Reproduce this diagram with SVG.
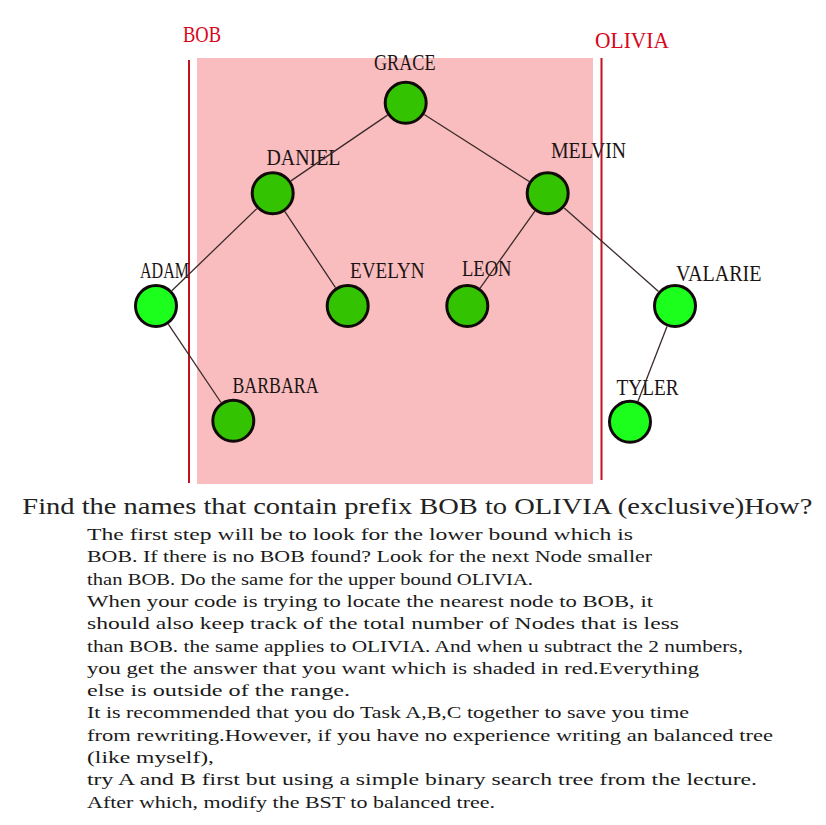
<svg xmlns="http://www.w3.org/2000/svg" width="826" height="825" viewBox="0 0 826 825">
<style>
.lbl{font-family:"Liberation Serif","DejaVu Serif",serif;font-size:23px;fill:#1c1414;}
.rlbl{font-family:"Liberation Serif","DejaVu Serif",serif;font-size:23px;fill:#d8061c;}
.in{fill:#33c300;stroke:#120a0a;stroke-width:3;}
.out{fill:#1cff1c;stroke:#120a0a;stroke-width:3;}
.edge{stroke:#3a2a2a;stroke-width:1.3;fill:none;}
.bound{stroke:#c0141e;stroke-width:2;}
.title{font-family:"Liberation Serif","DejaVu Serif",serif;font-size:23px;fill:#222;}
.body{font-family:"Liberation Serif","DejaVu Serif",serif;font-size:17px;fill:#1a1a1a;}
</style>
<rect width="826" height="825" fill="#ffffff"/>
<rect x="197" y="58" width="396" height="426" fill="#f9bdbf"/>
<g id="bounds">
<line class="bound" x1="189" y1="60" x2="189" y2="483"/>
<line class="bound" x1="601.5" y1="58" x2="601.5" y2="480"/>
<text class="rlbl" x="183" y="42" textLength="38" lengthAdjust="spacingAndGlyphs">BOB</text>
<text class="rlbl" x="595" y="47.5" textLength="74" lengthAdjust="spacingAndGlyphs">OLIVIA</text>
</g>
<g id="GRACE"><circle class="in" cx="405.7" cy="102.7" r="20.5"/><text class="lbl" x="374" y="70" textLength="61.5" lengthAdjust="spacingAndGlyphs">GRACE</text></g>
<g id="DANIEL"><circle class="in" cx="272.7" cy="193.3" r="20.5"/><text class="lbl" x="266.5" y="165" textLength="74" lengthAdjust="spacingAndGlyphs">DANIEL</text></g>
<g id="MELVIN"><circle class="in" cx="547.7" cy="193.3" r="20.5"/><text class="lbl" x="551" y="158" textLength="75" lengthAdjust="spacingAndGlyphs">MELVIN</text></g>
<g id="ADAM"><circle class="out" cx="156" cy="306" r="20.5"/><text class="lbl" x="140" y="277.5" textLength="49" lengthAdjust="spacingAndGlyphs">ADAM</text></g>
<g id="EVELYN"><circle class="in" cx="347.7" cy="306" r="20.5"/><text class="lbl" x="350" y="277.5" textLength="74.5" lengthAdjust="spacingAndGlyphs">EVELYN</text></g>
<g id="LEON"><circle class="in" cx="467.3" cy="306" r="20.5"/><text class="lbl" x="462" y="276" textLength="49.5" lengthAdjust="spacingAndGlyphs">LEON</text></g>
<g id="VALARIE"><circle class="out" cx="675" cy="306" r="20.5"/><text class="lbl" x="676" y="280.7" textLength="85.5" lengthAdjust="spacingAndGlyphs">VALARIE</text></g>
<g id="BARBARA"><circle class="in" cx="233.3" cy="420.7" r="20.5"/><text class="lbl" x="232.5" y="392.7" textLength="86" lengthAdjust="spacingAndGlyphs">BARBARA</text></g>
<g id="TYLER"><circle class="out" cx="630" cy="421.7" r="20.5"/><text class="lbl" x="616.5" y="395" textLength="62" lengthAdjust="spacingAndGlyphs">TYLER</text></g>
<g id="connectors">
<line class="edge" x1="387.5" y1="115.1" x2="290.9" y2="180.9"/>
<line class="edge" x1="424.2" y1="114.5" x2="529.2" y2="181.5"/>
<line class="edge" x1="256.9" y1="208.6" x2="171.8" y2="290.7"/>
<line class="edge" x1="284.9" y1="211.6" x2="335.5" y2="287.7"/>
<line class="edge" x1="534.9" y1="211.2" x2="480.1" y2="288.1"/>
<line class="edge" x1="564.2" y1="207.9" x2="658.5" y2="291.4"/>
<line class="edge" x1="168.3" y1="324.2" x2="221" y2="402.5"/>
<line class="edge" x1="667" y1="326.5" x2="638" y2="401.2"/>
</g>
<g id="text">
<text class="title" x="22.3" y="513.5" textLength="790" lengthAdjust="spacingAndGlyphs">Find the names that contain prefix BOB to OLIVIA (exclusive)How?</text>
<text class="body" x="87" y="540" textLength="546" lengthAdjust="spacingAndGlyphs">The first step will be to look for the lower bound which is</text>
<text class="body" x="87" y="562.3" textLength="565" lengthAdjust="spacingAndGlyphs">BOB. If there is no BOB found? Look for the next Node smaller</text>
<text class="body" x="87" y="584.6" textLength="446" lengthAdjust="spacingAndGlyphs">than BOB. Do the same for the upper bound OLIVIA.</text>
<text class="body" x="87" y="606.9" textLength="566" lengthAdjust="spacingAndGlyphs">When your code is trying to locate the nearest node to BOB, it</text>
<text class="body" x="87" y="629.2" textLength="592" lengthAdjust="spacingAndGlyphs">should also keep track of the total number of Nodes that is less</text>
<text class="body" x="87" y="651.5" textLength="656" lengthAdjust="spacingAndGlyphs">than BOB. the same applies to OLIVIA. And when u subtract the 2 numbers,</text>
<text class="body" x="87" y="673.8" textLength="612" lengthAdjust="spacingAndGlyphs">you get the answer that you want which is shaded in red.Everything</text>
<text class="body" x="87" y="696.1" textLength="263" lengthAdjust="spacingAndGlyphs">else is outside of the range.</text>
<text class="body" x="87" y="718.4" textLength="602" lengthAdjust="spacingAndGlyphs">It is recommended that you do Task A,B,C together to save you time</text>
<text class="body" x="87" y="740.7" textLength="686" lengthAdjust="spacingAndGlyphs">from rewriting.However, if you have no experience writing an balanced tree</text>
<text class="body" x="87" y="763" textLength="127" lengthAdjust="spacingAndGlyphs">(like myself),</text>
<text class="body" x="87" y="785.3" textLength="670" lengthAdjust="spacingAndGlyphs">try A and B first but using a simple binary search tree from the lecture.</text>
<text class="body" x="87" y="807.6" textLength="408" lengthAdjust="spacingAndGlyphs">After which, modify the BST to balanced tree.</text>
</g>
</svg>
